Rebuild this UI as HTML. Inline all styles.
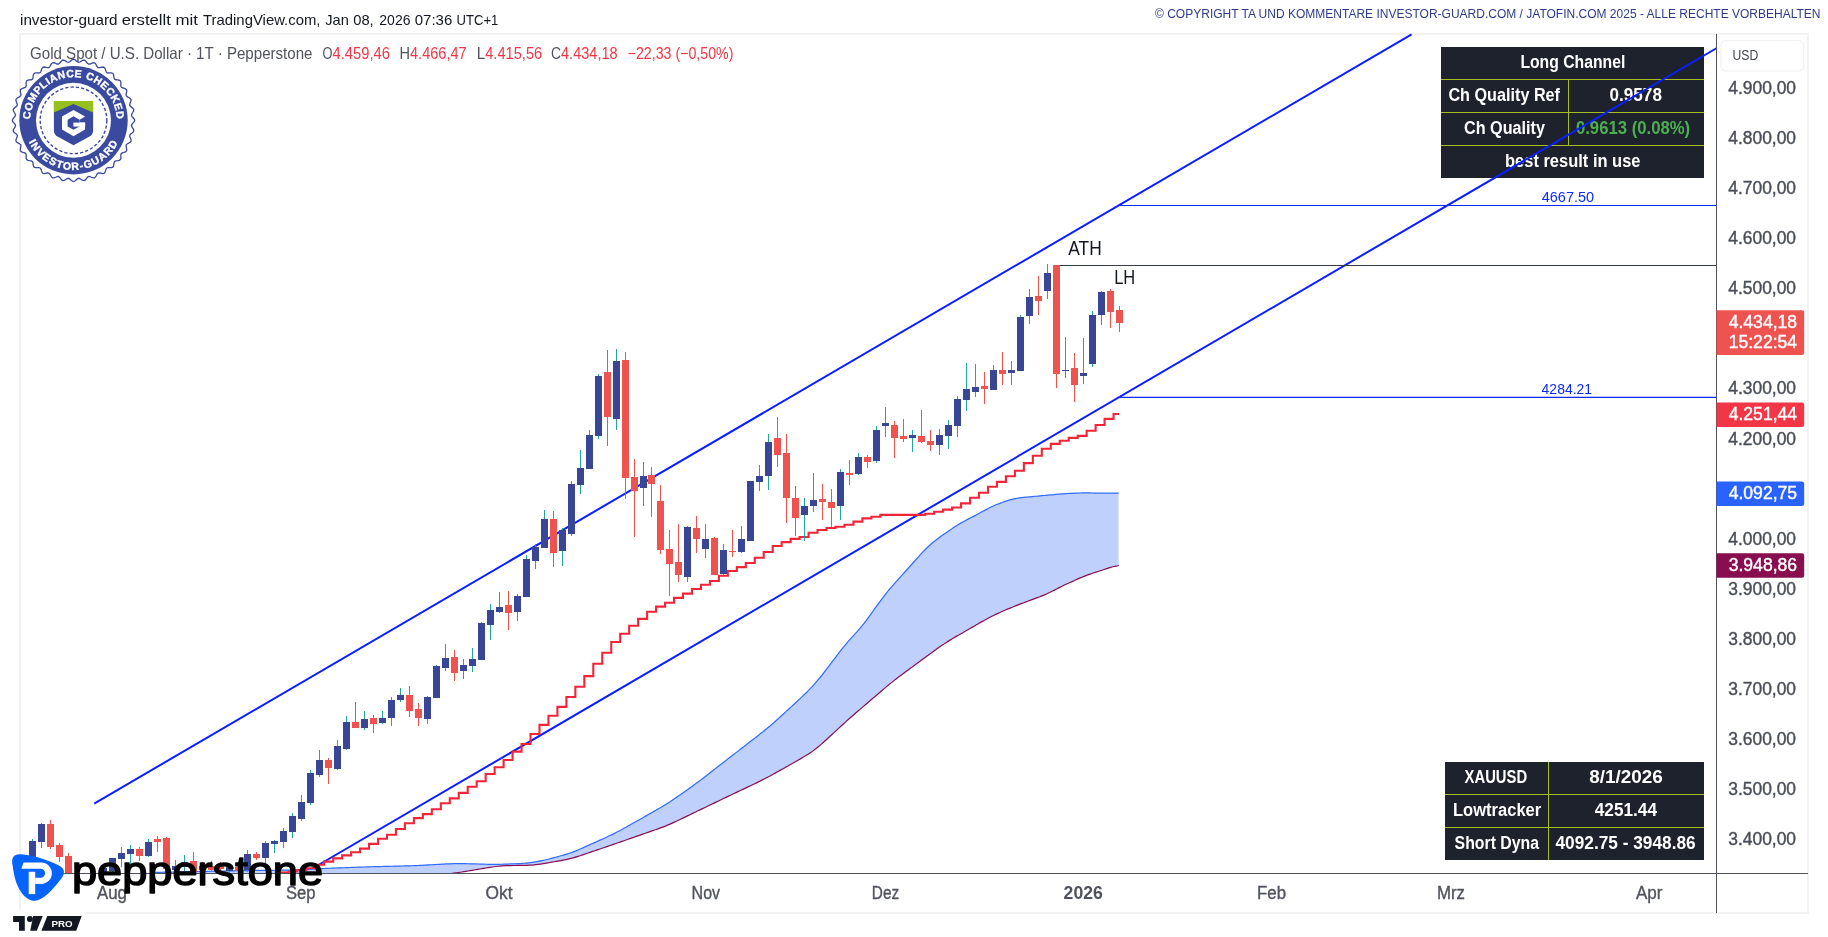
<!DOCTYPE html><html><head><meta charset="utf-8"><style>html,body{margin:0;padding:0;background:#fff;width:1828px;height:937px;overflow:hidden}svg{will-change:transform}</style></head><body><svg width="1828" height="937" viewBox="0 0 1828 937" style="display:block;font-family:'Liberation Sans', sans-serif">
<defs><clipPath id="pane"><rect x="20" y="35" width="1696" height="838"/></clipPath></defs>
<g fill="#f2f2f2" shape-rendering="crispEdges">
<rect x="19" y="33" width="1790" height="2"/>
<rect x="19" y="33" width="2" height="877"/>
<rect x="1807" y="33" width="2" height="880"/>
<rect x="86" y="912" width="1723" height="2"/>
</g>
<text x="20" y="24.7" font-size="15" fill="#131722" textLength="97.5" lengthAdjust="spacingAndGlyphs">investor-guard</text>
<text x="121.8" y="24.7" font-size="15" fill="#131722" textLength="49" lengthAdjust="spacingAndGlyphs">erstellt</text>
<text x="175.5" y="24.7" font-size="15" fill="#131722" textLength="22.5" lengthAdjust="spacingAndGlyphs">mit</text>
<text x="203" y="24.7" font-size="15" fill="#131722" textLength="117.5" lengthAdjust="spacingAndGlyphs">TradingView.com,</text>
<text x="325.3" y="24.7" font-size="15" fill="#131722" textLength="23.5" lengthAdjust="spacingAndGlyphs">Jan</text>
<text x="353.2" y="24.7" font-size="15" fill="#131722" textLength="20.5" lengthAdjust="spacingAndGlyphs">08,</text>
<text x="379.3" y="24.7" font-size="15" fill="#131722" textLength="31.2" lengthAdjust="spacingAndGlyphs">2026</text>
<text x="414.7" y="24.7" font-size="15" fill="#131722" textLength="37.6" lengthAdjust="spacingAndGlyphs">07:36</text>
<text x="456.5" y="24.7" font-size="15" fill="#131722" textLength="41.8" lengthAdjust="spacingAndGlyphs">UTC+1</text>
<text x="1155" y="17.8" font-size="12.5" fill="#2e3a8c" textLength="665.5" lengthAdjust="spacingAndGlyphs">© COPYRIGHT TA UND KOMMENTARE INVESTOR-GUARD.COM / JATOFIN.COM 2025 - ALLE RECHTE VORBEHALTEN</text>
<g shape-rendering="crispEdges">
<rect x="1441" y="47" width="263" height="131" fill="#1e222d"/>
<path d="M1441,79.5H1704M1441,112.5H1704M1441,145.5H1704M1568.5,79.5V145.5" stroke="#a3be1e" stroke-width="1"/>
<rect x="1445" y="762" width="259" height="98" fill="#1e222d"/>
<path d="M1445,794.5H1704M1445,827.5H1704M1548.5,762V860" stroke="#a3be1e" stroke-width="1"/>
</g>
<text x="1520.4" y="68.1" font-size="17.5" font-weight="bold" fill="#ffffff" textLength="104.9" lengthAdjust="spacingAndGlyphs">Long Channel</text>
<text x="1448.4" y="101.2" font-size="17.5" font-weight="bold" fill="#ffffff" textLength="111.6" lengthAdjust="spacingAndGlyphs">Ch Quality Ref</text>
<text x="1609.6" y="101.2" font-size="17.5" font-weight="bold" fill="#ffffff" textLength="52.3" lengthAdjust="spacingAndGlyphs">0.9578</text>
<text x="1464" y="134.2" font-size="17.5" font-weight="bold" fill="#ffffff" textLength="81" lengthAdjust="spacingAndGlyphs">Ch Quality</text>
<text x="1575.9" y="134.2" font-size="17.5" font-weight="bold" fill="#4caf50" textLength="114.3" lengthAdjust="spacingAndGlyphs">0.9613 (0.08%)</text>
<text x="1505" y="167" font-size="17.5" font-weight="bold" fill="#ffffff" textLength="135.5" lengthAdjust="spacingAndGlyphs">best result in use</text>
<text x="1464.6" y="782.9" font-size="17.5" font-weight="bold" fill="#ffffff" textLength="62.5" lengthAdjust="spacingAndGlyphs">XAUUSD</text>
<text x="1589.2" y="782.9" font-size="17.5" font-weight="bold" fill="#ffffff" textLength="73.7" lengthAdjust="spacingAndGlyphs">8/1/2026</text>
<text x="1453" y="816" font-size="17.5" font-weight="bold" fill="#ffffff" textLength="88.2" lengthAdjust="spacingAndGlyphs">Lowtracker</text>
<text x="1594.8" y="816" font-size="17.5" font-weight="bold" fill="#ffffff" textLength="62.2" lengthAdjust="spacingAndGlyphs">4251.44</text>
<text x="1454.6" y="849" font-size="17.5" font-weight="bold" fill="#ffffff" textLength="84.4" lengthAdjust="spacingAndGlyphs">Short Dyna</text>
<text x="1555.5" y="849" font-size="17.5" font-weight="bold" fill="#ffffff" textLength="140.2" lengthAdjust="spacingAndGlyphs">4092.75 - 3948.86</text>
<path d="M94.2,803.6L1411.6,34.4" stroke="#0a1eff" stroke-width="2" fill="none" stroke-linecap="butt"/>
<path d="M305.6,872.5L1716.4,48.25" stroke="#0a1eff" stroke-width="2" fill="none" stroke-linecap="butt"/>
<g clip-path="url(#pane)">
<path d="M150,872.45 C150.67,872.44 152.67,872.42 154,872.4 C155.33,872.38 156.67,872.36 158,872.34 C159.33,872.31 160.67,872.28 162,872.25 C163.33,872.23 164.67,872.2 166,872.17 C167.33,872.15 168.67,872.12 170,872.09 C171.33,872.06 172.67,872.04 174,872.01 C175.33,871.98 176.67,871.96 178,871.93 C179.33,871.9 180.67,871.87 182,871.85 C183.33,871.82 184.67,871.79 186,871.76 C187.33,871.74 188.67,871.71 190,871.68 C191.33,871.66 192.67,871.63 194,871.6 C195.33,871.57 196.67,871.55 198,871.52 C199.33,871.49 200.67,871.46 202,871.44 C203.33,871.41 204.67,871.38 206,871.36 C207.33,871.33 208.67,871.3 210,871.27 C211.33,871.25 212.67,871.22 214,871.19 C215.33,871.17 216.67,871.14 218,871.11 C219.33,871.08 220.67,871.06 222,871.03 C223.33,871 224.67,870.97 226,870.95 C227.33,870.92 228.67,870.89 230,870.87 C231.33,870.84 232.67,870.81 234,870.78 C235.33,870.76 236.67,870.73 238,870.71 C239.33,870.68 240.67,870.66 242,870.64 C243.33,870.62 244.67,870.6 246,870.58 C247.33,870.56 248.67,870.54 250,870.52 C251.33,870.51 252.67,870.49 254,870.48 C255.33,870.46 256.67,870.45 258,870.43 C259.33,870.42 260.67,870.4 262,870.39 C263.33,870.37 264.67,870.36 266,870.34 C267.33,870.33 268.67,870.31 270,870.3 C271.33,870.29 272.67,870.27 274,870.26 C275.33,870.24 276.67,870.23 278,870.21 C279.33,870.2 280.67,870.18 282,870.17 C283.33,870.15 284.67,870.14 286,870.12 C287.33,870.11 288.67,870.09 290,870.07 C291.33,870.04 292.67,870.01 294,869.98 C295.33,869.94 296.67,869.9 298,869.85 C299.33,869.8 300.67,869.74 302,869.68 C303.33,869.62 304.67,869.55 306,869.48 C307.33,869.41 308.67,869.33 310,869.25 C311.33,869.17 312.67,869.09 314,869.02 C315.33,868.94 316.67,868.87 318,868.8 C319.33,868.73 320.67,868.66 322,868.6 C323.33,868.53 324.67,868.47 326,868.41 C327.33,868.35 328.67,868.3 330,868.24 C331.33,868.19 332.67,868.14 334,868.09 C335.33,868.04 336.67,867.99 338,867.94 C339.33,867.9 340.67,867.85 342,867.8 C343.33,867.75 344.67,867.7 346,867.65 C347.33,867.6 348.67,867.55 350,867.5 C351.33,867.45 352.67,867.4 354,867.35 C355.33,867.3 356.67,867.25 358,867.2 C359.33,867.15 360.67,867.11 362,867.06 C363.33,867.01 364.67,866.97 366,866.92 C367.33,866.88 368.67,866.84 370,866.8 C371.33,866.76 372.67,866.72 374,866.69 C375.33,866.65 376.67,866.62 378,866.58 C379.33,866.55 380.67,866.52 382,866.49 C383.33,866.45 384.67,866.42 386,866.39 C387.33,866.36 388.67,866.33 390,866.3 C391.33,866.26 392.67,866.23 394,866.2 C395.33,866.17 396.67,866.14 398,866.1 C399.33,866.07 400.67,866.04 402,866.01 C403.33,865.98 404.67,865.95 406,865.91 C407.33,865.88 408.67,865.84 410,865.8 C411.33,865.75 412.67,865.71 414,865.66 C415.33,865.61 416.67,865.55 418,865.49 C419.33,865.43 420.67,865.37 422,865.3 C423.33,865.23 424.67,865.16 426,865.08 C427.33,865.01 428.67,864.93 430,864.86 C431.33,864.78 432.67,864.71 434,864.64 C435.33,864.56 436.67,864.49 438,864.41 C439.33,864.34 440.67,864.27 442,864.19 C443.33,864.12 444.67,864.04 446,863.97 C447.33,863.9 448.67,863.83 450,863.78 C451.33,863.72 452.67,863.68 454,863.65 C455.33,863.62 456.67,863.6 458,863.59 C459.33,863.58 460.67,863.59 462,863.6 C463.33,863.61 464.67,863.64 466,863.68 C467.33,863.71 468.67,863.75 470,863.79 C471.33,863.83 472.67,863.86 474,863.9 C475.33,863.94 476.67,863.98 478,864.01 C479.33,864.05 480.67,864.09 482,864.13 C483.33,864.16 484.67,864.21 486,864.24 C487.33,864.27 488.67,864.3 490,864.32 C491.33,864.33 492.67,864.34 494,864.34 C495.33,864.34 496.67,864.33 498,864.31 C499.33,864.3 500.67,864.27 502,864.24 C503.33,864.2 504.67,864.15 506,864.11 C507.33,864.06 508.67,864.01 510,863.96 C511.33,863.91 512.67,863.86 514,863.81 C515.33,863.76 516.67,863.72 518,863.65 C519.33,863.58 520.67,863.5 522,863.4 C523.33,863.3 524.67,863.19 526,863.07 C527.33,862.94 528.67,862.8 530,862.65 C531.33,862.49 532.67,862.33 534,862.13 C535.33,861.92 536.67,861.68 538,861.44 C539.33,861.19 540.67,860.93 542,860.65 C543.33,860.37 544.67,860.07 546,859.76 C547.33,859.44 548.67,859.11 550,858.76 C551.33,858.42 552.67,858.05 554,857.69 C555.33,857.33 556.67,856.97 558,856.62 C559.33,856.26 560.67,855.92 562,855.54 C563.33,855.17 564.67,854.78 566,854.36 C567.33,853.95 568.67,853.51 570,853.04 C571.33,852.58 572.67,852.09 574,851.58 C575.33,851.06 576.67,850.53 578,849.97 C579.33,849.4 580.67,848.8 582,848.21 C583.33,847.62 584.67,847.02 586,846.42 C587.33,845.82 588.67,845.22 590,844.62 C591.33,844.03 592.67,843.43 594,842.83 C595.33,842.23 596.67,841.63 598,841.04 C599.33,840.44 600.67,839.84 602,839.24 C603.33,838.64 604.67,838.06 606,837.45 C607.33,836.84 608.67,836.22 610,835.58 C611.33,834.94 612.67,834.29 614,833.62 C615.33,832.95 616.67,832.26 618,831.56 C619.33,830.86 620.67,830.15 622,829.42 C623.33,828.69 624.67,827.93 626,827.18 C627.33,826.43 628.67,825.67 630,824.92 C631.33,824.17 632.67,823.42 634,822.66 C635.33,821.91 636.67,821.16 638,820.41 C639.33,819.65 640.67,818.9 642,818.15 C643.33,817.4 644.67,816.64 646,815.89 C647.33,815.14 648.67,814.39 650,813.63 C651.33,812.88 652.67,812.13 654,811.38 C655.33,810.62 656.67,809.88 658,809.12 C659.33,808.35 660.67,807.59 662,806.79 C663.33,806 664.67,805.18 666,804.35 C667.33,803.51 668.67,802.66 670,801.79 C671.33,800.91 672.67,800.02 674,799.11 C675.33,798.2 676.67,797.26 678,796.32 C679.33,795.38 680.67,794.42 682,793.48 C683.33,792.53 684.67,791.58 686,790.64 C687.33,789.69 688.67,788.75 690,787.8 C691.33,786.85 692.67,785.9 694,784.93 C695.33,783.96 696.67,782.98 698,782 C699.33,781.01 700.67,780.01 702,779 C703.33,778 704.67,776.98 706,775.95 C707.33,774.92 708.67,773.88 710,772.84 C711.33,771.8 712.67,770.75 714,769.71 C715.33,768.66 716.67,767.62 718,766.59 C719.33,765.55 720.67,764.51 722,763.47 C723.33,762.44 724.67,761.41 726,760.37 C727.33,759.34 728.67,758.31 730,757.28 C731.33,756.25 732.67,755.22 734,754.19 C735.33,753.16 736.67,752.13 738,751.1 C739.33,750.07 740.67,749.04 742,748.01 C743.33,746.98 744.67,745.96 746,744.93 C747.33,743.9 748.67,742.87 750,741.85 C751.33,740.82 752.67,739.79 754,738.76 C755.33,737.74 756.67,736.72 758,735.68 C759.33,734.65 760.67,733.61 762,732.55 C763.33,731.48 764.67,730.4 766,729.3 C767.33,728.2 768.67,727.08 770,725.94 C771.33,724.8 772.67,723.64 774,722.47 C775.33,721.29 776.67,720.09 778,718.88 C779.33,717.68 780.67,716.45 782,715.24 C783.33,714.02 784.67,712.81 786,711.6 C787.33,710.38 788.67,709.16 790,707.93 C791.33,706.71 792.67,705.48 794,704.25 C795.33,703.02 796.67,701.78 798,700.54 C799.33,699.3 800.67,698.08 802,696.82 C803.33,695.56 804.67,694.31 806,692.99 C807.33,691.68 808.67,690.32 810,688.92 C811.33,687.52 812.67,686.09 814,684.6 C815.33,683.11 816.67,681.57 818,679.98 C819.33,678.38 820.67,676.73 822,675.04 C823.33,673.36 824.67,671.61 826,669.88 C827.33,668.15 828.67,666.41 830,664.66 C831.33,662.91 832.67,661.13 834,659.37 C835.33,657.61 836.67,655.82 838,654.08 C839.33,652.35 840.67,650.61 842,648.94 C843.33,647.26 844.67,645.64 846,644.05 C847.33,642.47 848.67,640.92 850,639.43 C851.33,637.93 852.67,636.54 854,635.07 C855.33,633.6 856.67,632.14 858,630.61 C859.33,629.09 860.67,627.54 862,625.92 C863.33,624.29 864.67,622.61 866,620.86 C867.33,619.12 868.67,617.3 870,615.44 C871.33,613.59 872.67,611.62 874,609.75 C875.33,607.87 876.67,606.02 878,604.2 C879.33,602.38 880.67,600.58 882,598.82 C883.33,597.05 884.67,595.29 886,593.6 C887.33,591.91 888.67,590.29 890,588.7 C891.33,587.11 892.67,585.56 894,584.03 C895.33,582.51 896.67,581.01 898,579.53 C899.33,578.04 900.67,576.57 902,575.11 C903.33,573.65 904.67,572.21 906,570.74 C907.33,569.27 908.67,567.77 910,566.27 C911.33,564.77 912.67,563.24 914,561.74 C915.33,560.24 916.67,558.74 918,557.28 C919.33,555.81 920.67,554.36 922,552.94 C923.33,551.52 924.67,550.1 926,548.77 C927.33,547.44 928.67,546.18 930,544.97 C931.33,543.77 932.67,542.66 934,541.56 C935.33,540.47 936.67,539.42 938,538.4 C939.33,537.39 940.67,536.42 942,535.49 C943.33,534.55 944.67,533.69 946,532.79 C947.33,531.89 948.67,530.99 950,530.09 C951.33,529.18 952.67,528.24 954,527.35 C955.33,526.46 956.67,525.6 958,524.77 C959.33,523.94 960.67,523.13 962,522.37 C963.33,521.6 964.67,520.87 966,520.16 C967.33,519.45 968.67,518.77 970,518.09 C971.33,517.42 972.67,516.79 974,516.1 C975.33,515.42 976.67,514.72 978,514 C979.33,513.28 980.67,512.53 982,511.8 C983.33,511.07 984.67,510.34 986,509.64 C987.33,508.94 988.67,508.24 990,507.58 C991.33,506.93 992.67,506.28 994,505.69 C995.33,505.09 996.67,504.53 998,504.01 C999.33,503.48 1000.67,503.02 1002,502.54 C1003.33,502.07 1004.67,501.6 1006,501.16 C1007.33,500.72 1008.67,500.28 1010,499.91 C1011.33,499.54 1012.67,499.22 1014,498.93 C1015.33,498.63 1016.67,498.38 1018,498.15 C1019.33,497.91 1020.67,497.72 1022,497.54 C1023.33,497.37 1024.67,497.24 1026,497.11 C1027.33,496.98 1028.67,496.89 1030,496.78 C1031.33,496.67 1032.67,496.56 1034,496.44 C1035.33,496.32 1036.67,496.2 1038,496.07 C1039.33,495.95 1040.67,495.82 1042,495.69 C1043.33,495.56 1044.67,495.43 1046,495.29 C1047.33,495.16 1048.67,495.02 1050,494.9 C1051.33,494.77 1052.67,494.64 1054,494.53 C1055.33,494.41 1056.67,494.3 1058,494.19 C1059.33,494.08 1060.67,493.98 1062,493.89 C1063.33,493.79 1064.67,493.71 1066,493.63 C1067.33,493.55 1068.67,493.48 1070,493.41 C1071.33,493.34 1072.67,493.27 1074,493.21 C1075.33,493.15 1076.67,493.08 1078,493.03 C1079.33,492.99 1080.67,492.96 1082,492.94 C1083.33,492.92 1084.67,492.91 1086,492.92 C1087.33,492.92 1088.67,492.95 1090,492.97 C1091.33,492.99 1092.67,493.02 1094,493.05 C1095.33,493.08 1096.67,493.12 1098,493.14 C1099.33,493.16 1100.67,493.18 1102,493.19 C1103.33,493.19 1104.67,493.19 1106,493.18 C1107.33,493.17 1108.67,493.15 1110,493.13 C1111.33,493.11 1112.67,493.09 1114,493.08 C1115.33,493.07 1117.23,493.05 1118,493.04 C1118.77,493.03 1118.5,493.02 1118.6,493.02 L1118.6,565.14 C1118.5,565.23 1118.77,565.47 1118,565.7 C1117.23,565.93 1115.33,566.2 1114,566.52 C1112.67,566.83 1111.33,567.2 1110,567.6 C1108.67,568 1107.33,568.47 1106,568.9 C1104.67,569.33 1103.33,569.77 1102,570.2 C1100.67,570.64 1099.33,571.07 1098,571.5 C1096.67,571.94 1095.33,572.36 1094,572.8 C1092.67,573.25 1091.33,573.71 1090,574.18 C1088.67,574.66 1087.33,575.15 1086,575.66 C1084.67,576.17 1083.33,576.7 1082,577.24 C1080.67,577.79 1079.33,578.34 1078,578.92 C1076.67,579.5 1075.33,580.1 1074,580.7 C1072.67,581.3 1071.33,581.9 1070,582.5 C1068.67,583.1 1067.33,583.68 1066,584.31 C1064.67,584.93 1063.33,585.57 1062,586.24 C1060.67,586.91 1059.33,587.64 1058,588.32 C1056.67,589 1055.33,589.68 1054,590.34 C1052.67,591 1051.33,591.65 1050,592.3 C1048.67,592.94 1047.33,593.59 1046,594.19 C1044.67,594.79 1043.33,595.36 1042,595.89 C1040.67,596.42 1039.33,596.89 1038,597.38 C1036.67,597.88 1035.33,598.38 1034,598.88 C1032.67,599.38 1031.33,599.88 1030,600.38 C1028.67,600.87 1027.33,601.37 1026,601.87 C1024.67,602.37 1023.33,602.86 1022,603.37 C1020.67,603.87 1019.33,604.38 1018,604.9 C1016.67,605.42 1015.33,605.94 1014,606.48 C1012.67,607.02 1011.33,607.57 1010,608.12 C1008.67,608.68 1007.33,609.24 1006,609.82 C1004.67,610.39 1003.33,610.97 1002,611.57 C1000.67,612.16 999.33,612.75 998,613.37 C996.67,613.99 995.33,614.62 994,615.28 C992.67,615.93 991.33,616.6 990,617.29 C988.67,617.98 987.33,618.69 986,619.41 C984.67,620.14 983.33,620.88 982,621.64 C980.67,622.39 979.33,623.17 978,623.94 C976.67,624.71 975.33,625.48 974,626.24 C972.67,627.01 971.33,627.78 970,628.55 C968.67,629.31 967.33,630.08 966,630.85 C964.67,631.62 963.33,632.39 962,633.15 C960.67,633.92 959.33,634.69 958,635.46 C956.67,636.22 955.33,636.98 954,637.76 C952.67,638.54 951.33,639.32 950,640.13 C948.67,640.94 947.33,641.78 946,642.63 C944.67,643.49 943.33,644.37 942,645.27 C940.67,646.17 939.33,647.09 938,648.03 C936.67,648.97 935.33,649.94 934,650.92 C932.67,651.89 931.33,652.88 930,653.86 C928.67,654.85 927.33,655.83 926,656.81 C924.67,657.79 923.33,658.78 922,659.76 C920.67,660.74 919.33,661.73 918,662.71 C916.67,663.69 915.33,664.67 914,665.66 C912.67,666.64 911.33,667.62 910,668.6 C908.67,669.59 907.33,670.57 906,671.55 C904.67,672.53 903.33,673.51 902,674.5 C900.67,675.49 899.33,676.49 898,677.51 C896.67,678.53 895.33,679.56 894,680.61 C892.67,681.66 891.33,682.73 890,683.81 C888.67,684.89 887.33,685.99 886,687.1 C884.67,688.22 883.33,689.36 882,690.49 C880.67,691.63 879.33,692.78 878,693.92 C876.67,695.06 875.33,696.2 874,697.35 C872.67,698.49 871.33,699.63 870,700.77 C868.67,701.91 867.33,703.06 866,704.2 C864.67,705.34 863.33,706.48 862,707.62 C860.67,708.77 859.33,709.9 858,711.05 C856.67,712.2 855.33,713.34 854,714.5 C852.67,715.66 851.33,716.83 850,718.01 C848.67,719.19 847.33,720.38 846,721.58 C844.67,722.78 843.33,723.98 842,725.2 C840.67,726.42 839.33,727.65 838,728.88 C836.67,730.11 835.33,731.35 834,732.59 C832.67,733.82 831.33,735.06 830,736.29 C828.67,737.53 827.33,738.78 826,740 C824.67,741.23 823.33,742.47 822,743.64 C820.67,744.81 819.33,745.94 818,747.02 C816.67,748.1 815.33,749.13 814,750.12 C812.67,751.11 811.33,752.06 810,752.96 C808.67,753.86 807.33,754.71 806,755.53 C804.67,756.36 803.33,757.12 802,757.9 C800.67,758.69 799.33,759.47 798,760.24 C796.67,761.02 795.33,761.79 794,762.55 C792.67,763.31 791.33,764.07 790,764.83 C788.67,765.58 787.33,766.33 786,767.08 C784.67,767.82 783.33,768.55 782,769.29 C780.67,770.03 779.33,770.77 778,771.51 C776.67,772.25 775.33,772.99 774,773.73 C772.67,774.46 771.33,775.2 770,775.92 C768.67,776.64 767.33,777.35 766,778.05 C764.67,778.75 763.33,779.44 762,780.12 C760.67,780.8 759.33,781.46 758,782.12 C756.67,782.78 755.33,783.42 754,784.06 C752.67,784.7 751.33,785.33 750,785.96 C748.67,786.59 747.33,787.23 746,787.86 C744.67,788.49 743.33,789.12 742,789.76 C740.67,790.39 739.33,791.02 738,791.66 C736.67,792.29 735.33,792.92 734,793.55 C732.67,794.19 731.33,794.82 730,795.45 C728.67,796.09 727.33,796.72 726,797.36 C724.67,797.99 723.33,798.63 722,799.26 C720.67,799.9 719.33,800.54 718,801.18 C716.67,801.82 715.33,802.46 714,803.1 C712.67,803.74 711.33,804.39 710,805.03 C708.67,805.67 707.33,806.32 706,806.96 C704.67,807.6 703.33,808.25 702,808.89 C700.67,809.53 699.33,810.18 698,810.82 C696.67,811.47 695.33,812.11 694,812.75 C692.67,813.4 691.33,814.04 690,814.68 C688.67,815.33 687.33,815.97 686,816.62 C684.67,817.26 683.33,817.9 682,818.55 C680.67,819.19 679.33,819.84 678,820.48 C676.67,821.12 675.33,821.76 674,822.37 C672.67,822.98 671.33,823.57 670,824.15 C668.67,824.72 667.33,825.28 666,825.82 C664.67,826.36 663.33,826.88 662,827.39 C660.67,827.89 659.33,828.37 658,828.85 C656.67,829.32 655.33,829.77 654,830.24 C652.67,830.7 651.33,831.17 650,831.63 C648.67,832.1 647.33,832.56 646,833.03 C644.67,833.49 643.33,833.96 642,834.42 C640.67,834.89 639.33,835.35 638,835.82 C636.67,836.28 635.33,836.74 634,837.21 C632.67,837.67 631.33,838.14 630,838.6 C628.67,839.07 627.33,839.53 626,840 C624.67,840.46 623.33,840.93 622,841.39 C620.67,841.85 619.33,842.32 618,842.78 C616.67,843.24 615.33,843.7 614,844.16 C612.67,844.62 611.33,845.07 610,845.53 C608.67,845.99 607.33,846.45 606,846.9 C604.67,847.36 603.33,847.81 602,848.26 C600.67,848.72 599.33,849.17 598,849.63 C596.67,850.08 595.33,850.54 594,850.99 C592.67,851.45 591.33,851.9 590,852.36 C588.67,852.81 587.33,853.27 586,853.72 C584.67,854.17 583.33,854.64 582,855.08 C580.67,855.53 579.33,855.99 578,856.41 C576.67,856.83 575.33,857.23 574,857.6 C572.67,857.98 571.33,858.33 570,858.67 C568.67,859 567.33,859.31 566,859.59 C564.67,859.88 563.33,860.14 562,860.39 C560.67,860.64 559.33,860.85 558,861.08 C556.67,861.32 555.33,861.55 554,861.78 C552.67,862.01 551.33,862.25 550,862.48 C548.67,862.71 547.33,862.95 546,863.18 C544.67,863.41 543.33,863.65 542,863.86 C540.67,864.07 539.33,864.25 538,864.42 C536.67,864.58 535.33,864.73 534,864.85 C532.67,864.97 531.33,865.07 530,865.15 C528.67,865.23 527.33,865.28 526,865.32 C524.67,865.36 523.33,865.36 522,865.38 C520.67,865.4 519.33,865.42 518,865.44 C516.67,865.46 515.33,865.48 514,865.5 C512.67,865.51 511.33,865.52 510,865.55 C508.67,865.58 507.33,865.61 506,865.67 C504.67,865.73 503.33,865.81 502,865.91 C500.67,866 499.33,866.12 498,866.26 C496.67,866.4 495.33,866.56 494,866.74 C492.67,866.92 491.33,867.13 490,867.34 C488.67,867.55 487.33,867.78 486,868 C484.67,868.22 483.33,868.44 482,868.66 C480.67,868.88 479.33,869.11 478,869.33 C476.67,869.55 475.33,869.77 474,869.99 C472.67,870.21 471.33,870.43 470,870.65 C468.67,870.87 467.33,871.09 466,871.31 C464.67,871.53 463.33,871.76 462,871.98 C460.67,872.19 459.33,872.4 458,872.6 C456.67,872.81 455.33,873.01 454,873.2 C452.67,873.39 451.33,873.58 450,873.76 C448.67,873.95 447.33,874.12 446,874.29 C444.67,874.46 443.33,874.62 442,874.79 C440.67,874.95 439.33,875.12 438,875.29 C436.67,875.45 435.33,875.62 434,875.78 C432.67,875.95 431.33,876.11 430,876.28 C428.67,876.44 427.33,876.61 426,876.77 C424.67,876.94 423.33,877.1 422,877.27 C420.67,877.44 419.33,877.6 418,877.77 C416.67,877.93 415.33,878.1 414,878.26 C412.67,878.43 411.33,878.6 410,878.76 C408.67,878.92 407.33,879.08 406,879.22 C404.67,879.37 403.33,879.5 402,879.62 C400.67,879.75 399.33,879.86 398,879.96 C396.67,880.06 395.33,880.15 394,880.23 C392.67,880.31 391.33,880.37 390,880.43 C388.67,880.5 387.33,880.55 386,880.61 C384.67,880.67 383.33,880.72 382,880.78 C380.67,880.84 379.33,880.9 378,880.96 C376.67,881.01 375.33,881.07 374,881.13 C372.67,881.19 371.33,881.25 370,881.3 C368.67,881.36 367.33,881.42 366,881.48 C364.67,881.54 363.33,881.59 362,881.65 C360.67,881.71 359.33,881.77 358,881.83 C356.67,881.88 355.33,881.94 354,882 C352.67,882.06 351.33,882.12 350,882.17 C348.67,882.23 347.33,882.29 346,882.35 C344.67,882.41 343.33,882.46 342,882.52 C340.67,882.58 339.33,882.64 338,882.7 C336.67,882.75 335.33,882.81 334,882.87 C332.67,882.93 331.33,882.99 330,883.04 C328.67,883.1 327.33,883.16 326,883.22 C324.67,883.28 323.33,883.33 322,883.39 C320.67,883.45 319.33,883.51 318,883.57 C316.67,883.62 315.33,883.68 314,883.74 C312.67,883.8 311.33,883.86 310,883.91 C308.67,883.97 307.33,884.03 306,884.09 C304.67,884.14 303.33,884.2 302,884.26 C300.67,884.32 299.33,884.38 298,884.43 C296.67,884.49 295.33,884.55 294,884.61 C292.67,884.67 291.33,884.72 290,884.78 C288.67,884.84 287.33,884.9 286,884.96 C284.67,885.01 283.33,885.07 282,885.13 C280.67,885.19 279.33,885.25 278,885.3 C276.67,885.36 275.33,885.42 274,885.48 C272.67,885.54 271.33,885.59 270,885.65 C268.67,885.71 267.33,885.77 266,885.83 C264.67,885.88 263.33,885.94 262,886 C260.67,886.06 259.33,886.12 258,886.17 C256.67,886.23 255.33,886.29 254,886.35 C252.67,886.41 251.33,886.46 250,886.52 C248.67,886.58 247.33,886.64 246,886.7 C244.67,886.75 243.33,886.81 242,886.87 C240.67,886.93 239.33,886.99 238,887.04 C236.67,887.1 235.33,887.16 234,887.22 C232.67,887.28 231.33,887.33 230,887.39 C228.67,887.45 227.33,887.51 226,887.57 C224.67,887.62 223.33,887.68 222,887.74 C220.67,887.8 219.33,887.86 218,887.91 C216.67,887.97 215.33,888.03 214,888.09 C212.67,888.14 211.33,888.2 210,888.26 C208.67,888.32 207.33,888.38 206,888.43 C204.67,888.49 203.33,888.55 202,888.61 C200.67,888.67 199.33,888.72 198,888.78 C196.67,888.84 195.33,888.9 194,888.96 C192.67,889.01 191.33,889.07 190,889.13 C188.67,889.19 187.33,889.25 186,889.3 C184.67,889.36 183.33,889.42 182,889.48 C180.67,889.54 179.33,889.6 178,889.65 C176.67,889.7 175.33,889.75 174,889.79 C172.67,889.83 170.67,889.88 170,889.9Z" fill="#c0d0fd" stroke="none"/>
<path d="M150,872.45 C150.67,872.44 152.67,872.42 154,872.4 C155.33,872.38 156.67,872.36 158,872.34 C159.33,872.31 160.67,872.28 162,872.25 C163.33,872.23 164.67,872.2 166,872.17 C167.33,872.15 168.67,872.12 170,872.09 C171.33,872.06 172.67,872.04 174,872.01 C175.33,871.98 176.67,871.96 178,871.93 C179.33,871.9 180.67,871.87 182,871.85 C183.33,871.82 184.67,871.79 186,871.76 C187.33,871.74 188.67,871.71 190,871.68 C191.33,871.66 192.67,871.63 194,871.6 C195.33,871.57 196.67,871.55 198,871.52 C199.33,871.49 200.67,871.46 202,871.44 C203.33,871.41 204.67,871.38 206,871.36 C207.33,871.33 208.67,871.3 210,871.27 C211.33,871.25 212.67,871.22 214,871.19 C215.33,871.17 216.67,871.14 218,871.11 C219.33,871.08 220.67,871.06 222,871.03 C223.33,871 224.67,870.97 226,870.95 C227.33,870.92 228.67,870.89 230,870.87 C231.33,870.84 232.67,870.81 234,870.78 C235.33,870.76 236.67,870.73 238,870.71 C239.33,870.68 240.67,870.66 242,870.64 C243.33,870.62 244.67,870.6 246,870.58 C247.33,870.56 248.67,870.54 250,870.52 C251.33,870.51 252.67,870.49 254,870.48 C255.33,870.46 256.67,870.45 258,870.43 C259.33,870.42 260.67,870.4 262,870.39 C263.33,870.37 264.67,870.36 266,870.34 C267.33,870.33 268.67,870.31 270,870.3 C271.33,870.29 272.67,870.27 274,870.26 C275.33,870.24 276.67,870.23 278,870.21 C279.33,870.2 280.67,870.18 282,870.17 C283.33,870.15 284.67,870.14 286,870.12 C287.33,870.11 288.67,870.09 290,870.07 C291.33,870.04 292.67,870.01 294,869.98 C295.33,869.94 296.67,869.9 298,869.85 C299.33,869.8 300.67,869.74 302,869.68 C303.33,869.62 304.67,869.55 306,869.48 C307.33,869.41 308.67,869.33 310,869.25 C311.33,869.17 312.67,869.09 314,869.02 C315.33,868.94 316.67,868.87 318,868.8 C319.33,868.73 320.67,868.66 322,868.6 C323.33,868.53 324.67,868.47 326,868.41 C327.33,868.35 328.67,868.3 330,868.24 C331.33,868.19 332.67,868.14 334,868.09 C335.33,868.04 336.67,867.99 338,867.94 C339.33,867.9 340.67,867.85 342,867.8 C343.33,867.75 344.67,867.7 346,867.65 C347.33,867.6 348.67,867.55 350,867.5 C351.33,867.45 352.67,867.4 354,867.35 C355.33,867.3 356.67,867.25 358,867.2 C359.33,867.15 360.67,867.11 362,867.06 C363.33,867.01 364.67,866.97 366,866.92 C367.33,866.88 368.67,866.84 370,866.8 C371.33,866.76 372.67,866.72 374,866.69 C375.33,866.65 376.67,866.62 378,866.58 C379.33,866.55 380.67,866.52 382,866.49 C383.33,866.45 384.67,866.42 386,866.39 C387.33,866.36 388.67,866.33 390,866.3 C391.33,866.26 392.67,866.23 394,866.2 C395.33,866.17 396.67,866.14 398,866.1 C399.33,866.07 400.67,866.04 402,866.01 C403.33,865.98 404.67,865.95 406,865.91 C407.33,865.88 408.67,865.84 410,865.8 C411.33,865.75 412.67,865.71 414,865.66 C415.33,865.61 416.67,865.55 418,865.49 C419.33,865.43 420.67,865.37 422,865.3 C423.33,865.23 424.67,865.16 426,865.08 C427.33,865.01 428.67,864.93 430,864.86 C431.33,864.78 432.67,864.71 434,864.64 C435.33,864.56 436.67,864.49 438,864.41 C439.33,864.34 440.67,864.27 442,864.19 C443.33,864.12 444.67,864.04 446,863.97 C447.33,863.9 448.67,863.83 450,863.78 C451.33,863.72 452.67,863.68 454,863.65 C455.33,863.62 456.67,863.6 458,863.59 C459.33,863.58 460.67,863.59 462,863.6 C463.33,863.61 464.67,863.64 466,863.68 C467.33,863.71 468.67,863.75 470,863.79 C471.33,863.83 472.67,863.86 474,863.9 C475.33,863.94 476.67,863.98 478,864.01 C479.33,864.05 480.67,864.09 482,864.13 C483.33,864.16 484.67,864.21 486,864.24 C487.33,864.27 488.67,864.3 490,864.32 C491.33,864.33 492.67,864.34 494,864.34 C495.33,864.34 496.67,864.33 498,864.31 C499.33,864.3 500.67,864.27 502,864.24 C503.33,864.2 504.67,864.15 506,864.11 C507.33,864.06 508.67,864.01 510,863.96 C511.33,863.91 512.67,863.86 514,863.81 C515.33,863.76 516.67,863.72 518,863.65 C519.33,863.58 520.67,863.5 522,863.4 C523.33,863.3 524.67,863.19 526,863.07 C527.33,862.94 528.67,862.8 530,862.65 C531.33,862.49 532.67,862.33 534,862.13 C535.33,861.92 536.67,861.68 538,861.44 C539.33,861.19 540.67,860.93 542,860.65 C543.33,860.37 544.67,860.07 546,859.76 C547.33,859.44 548.67,859.11 550,858.76 C551.33,858.42 552.67,858.05 554,857.69 C555.33,857.33 556.67,856.97 558,856.62 C559.33,856.26 560.67,855.92 562,855.54 C563.33,855.17 564.67,854.78 566,854.36 C567.33,853.95 568.67,853.51 570,853.04 C571.33,852.58 572.67,852.09 574,851.58 C575.33,851.06 576.67,850.53 578,849.97 C579.33,849.4 580.67,848.8 582,848.21 C583.33,847.62 584.67,847.02 586,846.42 C587.33,845.82 588.67,845.22 590,844.62 C591.33,844.03 592.67,843.43 594,842.83 C595.33,842.23 596.67,841.63 598,841.04 C599.33,840.44 600.67,839.84 602,839.24 C603.33,838.64 604.67,838.06 606,837.45 C607.33,836.84 608.67,836.22 610,835.58 C611.33,834.94 612.67,834.29 614,833.62 C615.33,832.95 616.67,832.26 618,831.56 C619.33,830.86 620.67,830.15 622,829.42 C623.33,828.69 624.67,827.93 626,827.18 C627.33,826.43 628.67,825.67 630,824.92 C631.33,824.17 632.67,823.42 634,822.66 C635.33,821.91 636.67,821.16 638,820.41 C639.33,819.65 640.67,818.9 642,818.15 C643.33,817.4 644.67,816.64 646,815.89 C647.33,815.14 648.67,814.39 650,813.63 C651.33,812.88 652.67,812.13 654,811.38 C655.33,810.62 656.67,809.88 658,809.12 C659.33,808.35 660.67,807.59 662,806.79 C663.33,806 664.67,805.18 666,804.35 C667.33,803.51 668.67,802.66 670,801.79 C671.33,800.91 672.67,800.02 674,799.11 C675.33,798.2 676.67,797.26 678,796.32 C679.33,795.38 680.67,794.42 682,793.48 C683.33,792.53 684.67,791.58 686,790.64 C687.33,789.69 688.67,788.75 690,787.8 C691.33,786.85 692.67,785.9 694,784.93 C695.33,783.96 696.67,782.98 698,782 C699.33,781.01 700.67,780.01 702,779 C703.33,778 704.67,776.98 706,775.95 C707.33,774.92 708.67,773.88 710,772.84 C711.33,771.8 712.67,770.75 714,769.71 C715.33,768.66 716.67,767.62 718,766.59 C719.33,765.55 720.67,764.51 722,763.47 C723.33,762.44 724.67,761.41 726,760.37 C727.33,759.34 728.67,758.31 730,757.28 C731.33,756.25 732.67,755.22 734,754.19 C735.33,753.16 736.67,752.13 738,751.1 C739.33,750.07 740.67,749.04 742,748.01 C743.33,746.98 744.67,745.96 746,744.93 C747.33,743.9 748.67,742.87 750,741.85 C751.33,740.82 752.67,739.79 754,738.76 C755.33,737.74 756.67,736.72 758,735.68 C759.33,734.65 760.67,733.61 762,732.55 C763.33,731.48 764.67,730.4 766,729.3 C767.33,728.2 768.67,727.08 770,725.94 C771.33,724.8 772.67,723.64 774,722.47 C775.33,721.29 776.67,720.09 778,718.88 C779.33,717.68 780.67,716.45 782,715.24 C783.33,714.02 784.67,712.81 786,711.6 C787.33,710.38 788.67,709.16 790,707.93 C791.33,706.71 792.67,705.48 794,704.25 C795.33,703.02 796.67,701.78 798,700.54 C799.33,699.3 800.67,698.08 802,696.82 C803.33,695.56 804.67,694.31 806,692.99 C807.33,691.68 808.67,690.32 810,688.92 C811.33,687.52 812.67,686.09 814,684.6 C815.33,683.11 816.67,681.57 818,679.98 C819.33,678.38 820.67,676.73 822,675.04 C823.33,673.36 824.67,671.61 826,669.88 C827.33,668.15 828.67,666.41 830,664.66 C831.33,662.91 832.67,661.13 834,659.37 C835.33,657.61 836.67,655.82 838,654.08 C839.33,652.35 840.67,650.61 842,648.94 C843.33,647.26 844.67,645.64 846,644.05 C847.33,642.47 848.67,640.92 850,639.43 C851.33,637.93 852.67,636.54 854,635.07 C855.33,633.6 856.67,632.14 858,630.61 C859.33,629.09 860.67,627.54 862,625.92 C863.33,624.29 864.67,622.61 866,620.86 C867.33,619.12 868.67,617.3 870,615.44 C871.33,613.59 872.67,611.62 874,609.75 C875.33,607.87 876.67,606.02 878,604.2 C879.33,602.38 880.67,600.58 882,598.82 C883.33,597.05 884.67,595.29 886,593.6 C887.33,591.91 888.67,590.29 890,588.7 C891.33,587.11 892.67,585.56 894,584.03 C895.33,582.51 896.67,581.01 898,579.53 C899.33,578.04 900.67,576.57 902,575.11 C903.33,573.65 904.67,572.21 906,570.74 C907.33,569.27 908.67,567.77 910,566.27 C911.33,564.77 912.67,563.24 914,561.74 C915.33,560.24 916.67,558.74 918,557.28 C919.33,555.81 920.67,554.36 922,552.94 C923.33,551.52 924.67,550.1 926,548.77 C927.33,547.44 928.67,546.18 930,544.97 C931.33,543.77 932.67,542.66 934,541.56 C935.33,540.47 936.67,539.42 938,538.4 C939.33,537.39 940.67,536.42 942,535.49 C943.33,534.55 944.67,533.69 946,532.79 C947.33,531.89 948.67,530.99 950,530.09 C951.33,529.18 952.67,528.24 954,527.35 C955.33,526.46 956.67,525.6 958,524.77 C959.33,523.94 960.67,523.13 962,522.37 C963.33,521.6 964.67,520.87 966,520.16 C967.33,519.45 968.67,518.77 970,518.09 C971.33,517.42 972.67,516.79 974,516.1 C975.33,515.42 976.67,514.72 978,514 C979.33,513.28 980.67,512.53 982,511.8 C983.33,511.07 984.67,510.34 986,509.64 C987.33,508.94 988.67,508.24 990,507.58 C991.33,506.93 992.67,506.28 994,505.69 C995.33,505.09 996.67,504.53 998,504.01 C999.33,503.48 1000.67,503.02 1002,502.54 C1003.33,502.07 1004.67,501.6 1006,501.16 C1007.33,500.72 1008.67,500.28 1010,499.91 C1011.33,499.54 1012.67,499.22 1014,498.93 C1015.33,498.63 1016.67,498.38 1018,498.15 C1019.33,497.91 1020.67,497.72 1022,497.54 C1023.33,497.37 1024.67,497.24 1026,497.11 C1027.33,496.98 1028.67,496.89 1030,496.78 C1031.33,496.67 1032.67,496.56 1034,496.44 C1035.33,496.32 1036.67,496.2 1038,496.07 C1039.33,495.95 1040.67,495.82 1042,495.69 C1043.33,495.56 1044.67,495.43 1046,495.29 C1047.33,495.16 1048.67,495.02 1050,494.9 C1051.33,494.77 1052.67,494.64 1054,494.53 C1055.33,494.41 1056.67,494.3 1058,494.19 C1059.33,494.08 1060.67,493.98 1062,493.89 C1063.33,493.79 1064.67,493.71 1066,493.63 C1067.33,493.55 1068.67,493.48 1070,493.41 C1071.33,493.34 1072.67,493.27 1074,493.21 C1075.33,493.15 1076.67,493.08 1078,493.03 C1079.33,492.99 1080.67,492.96 1082,492.94 C1083.33,492.92 1084.67,492.91 1086,492.92 C1087.33,492.92 1088.67,492.95 1090,492.97 C1091.33,492.99 1092.67,493.02 1094,493.05 C1095.33,493.08 1096.67,493.12 1098,493.14 C1099.33,493.16 1100.67,493.18 1102,493.19 C1103.33,493.19 1104.67,493.19 1106,493.18 C1107.33,493.17 1108.67,493.15 1110,493.13 C1111.33,493.11 1112.67,493.09 1114,493.08 C1115.33,493.07 1117.23,493.05 1118,493.04 C1118.77,493.03 1118.5,493.02 1118.6,493.02" fill="none" stroke="#2f6bff" stroke-width="1.2"/>
<path d="M170,889.9 C170.67,889.88 172.67,889.83 174,889.79 C175.33,889.75 176.67,889.7 178,889.65 C179.33,889.6 180.67,889.54 182,889.48 C183.33,889.42 184.67,889.36 186,889.3 C187.33,889.25 188.67,889.19 190,889.13 C191.33,889.07 192.67,889.01 194,888.96 C195.33,888.9 196.67,888.84 198,888.78 C199.33,888.72 200.67,888.67 202,888.61 C203.33,888.55 204.67,888.49 206,888.43 C207.33,888.38 208.67,888.32 210,888.26 C211.33,888.2 212.67,888.14 214,888.09 C215.33,888.03 216.67,887.97 218,887.91 C219.33,887.86 220.67,887.8 222,887.74 C223.33,887.68 224.67,887.62 226,887.57 C227.33,887.51 228.67,887.45 230,887.39 C231.33,887.33 232.67,887.28 234,887.22 C235.33,887.16 236.67,887.1 238,887.04 C239.33,886.99 240.67,886.93 242,886.87 C243.33,886.81 244.67,886.75 246,886.7 C247.33,886.64 248.67,886.58 250,886.52 C251.33,886.46 252.67,886.41 254,886.35 C255.33,886.29 256.67,886.23 258,886.17 C259.33,886.12 260.67,886.06 262,886 C263.33,885.94 264.67,885.88 266,885.83 C267.33,885.77 268.67,885.71 270,885.65 C271.33,885.59 272.67,885.54 274,885.48 C275.33,885.42 276.67,885.36 278,885.3 C279.33,885.25 280.67,885.19 282,885.13 C283.33,885.07 284.67,885.01 286,884.96 C287.33,884.9 288.67,884.84 290,884.78 C291.33,884.72 292.67,884.67 294,884.61 C295.33,884.55 296.67,884.49 298,884.43 C299.33,884.38 300.67,884.32 302,884.26 C303.33,884.2 304.67,884.14 306,884.09 C307.33,884.03 308.67,883.97 310,883.91 C311.33,883.86 312.67,883.8 314,883.74 C315.33,883.68 316.67,883.62 318,883.57 C319.33,883.51 320.67,883.45 322,883.39 C323.33,883.33 324.67,883.28 326,883.22 C327.33,883.16 328.67,883.1 330,883.04 C331.33,882.99 332.67,882.93 334,882.87 C335.33,882.81 336.67,882.75 338,882.7 C339.33,882.64 340.67,882.58 342,882.52 C343.33,882.46 344.67,882.41 346,882.35 C347.33,882.29 348.67,882.23 350,882.17 C351.33,882.12 352.67,882.06 354,882 C355.33,881.94 356.67,881.88 358,881.83 C359.33,881.77 360.67,881.71 362,881.65 C363.33,881.59 364.67,881.54 366,881.48 C367.33,881.42 368.67,881.36 370,881.3 C371.33,881.25 372.67,881.19 374,881.13 C375.33,881.07 376.67,881.01 378,880.96 C379.33,880.9 380.67,880.84 382,880.78 C383.33,880.72 384.67,880.67 386,880.61 C387.33,880.55 388.67,880.5 390,880.43 C391.33,880.37 392.67,880.31 394,880.23 C395.33,880.15 396.67,880.06 398,879.96 C399.33,879.86 400.67,879.75 402,879.62 C403.33,879.5 404.67,879.37 406,879.22 C407.33,879.08 408.67,878.92 410,878.76 C411.33,878.6 412.67,878.43 414,878.26 C415.33,878.1 416.67,877.93 418,877.77 C419.33,877.6 420.67,877.44 422,877.27 C423.33,877.1 424.67,876.94 426,876.77 C427.33,876.61 428.67,876.44 430,876.28 C431.33,876.11 432.67,875.95 434,875.78 C435.33,875.62 436.67,875.45 438,875.29 C439.33,875.12 440.67,874.95 442,874.79 C443.33,874.62 444.67,874.46 446,874.29 C447.33,874.12 448.67,873.95 450,873.76 C451.33,873.58 452.67,873.39 454,873.2 C455.33,873.01 456.67,872.81 458,872.6 C459.33,872.4 460.67,872.19 462,871.98 C463.33,871.76 464.67,871.53 466,871.31 C467.33,871.09 468.67,870.87 470,870.65 C471.33,870.43 472.67,870.21 474,869.99 C475.33,869.77 476.67,869.55 478,869.33 C479.33,869.11 480.67,868.88 482,868.66 C483.33,868.44 484.67,868.22 486,868 C487.33,867.78 488.67,867.55 490,867.34 C491.33,867.13 492.67,866.92 494,866.74 C495.33,866.56 496.67,866.4 498,866.26 C499.33,866.12 500.67,866 502,865.91 C503.33,865.81 504.67,865.73 506,865.67 C507.33,865.61 508.67,865.58 510,865.55 C511.33,865.52 512.67,865.51 514,865.5 C515.33,865.48 516.67,865.46 518,865.44 C519.33,865.42 520.67,865.4 522,865.38 C523.33,865.36 524.67,865.36 526,865.32 C527.33,865.28 528.67,865.23 530,865.15 C531.33,865.07 532.67,864.97 534,864.85 C535.33,864.73 536.67,864.58 538,864.42 C539.33,864.25 540.67,864.07 542,863.86 C543.33,863.65 544.67,863.41 546,863.18 C547.33,862.95 548.67,862.71 550,862.48 C551.33,862.25 552.67,862.01 554,861.78 C555.33,861.55 556.67,861.32 558,861.08 C559.33,860.85 560.67,860.64 562,860.39 C563.33,860.14 564.67,859.88 566,859.59 C567.33,859.31 568.67,859 570,858.67 C571.33,858.33 572.67,857.98 574,857.6 C575.33,857.23 576.67,856.83 578,856.41 C579.33,855.99 580.67,855.53 582,855.08 C583.33,854.64 584.67,854.17 586,853.72 C587.33,853.27 588.67,852.81 590,852.36 C591.33,851.9 592.67,851.45 594,850.99 C595.33,850.54 596.67,850.08 598,849.63 C599.33,849.17 600.67,848.72 602,848.26 C603.33,847.81 604.67,847.36 606,846.9 C607.33,846.45 608.67,845.99 610,845.53 C611.33,845.07 612.67,844.62 614,844.16 C615.33,843.7 616.67,843.24 618,842.78 C619.33,842.32 620.67,841.85 622,841.39 C623.33,840.93 624.67,840.46 626,840 C627.33,839.53 628.67,839.07 630,838.6 C631.33,838.14 632.67,837.67 634,837.21 C635.33,836.74 636.67,836.28 638,835.82 C639.33,835.35 640.67,834.89 642,834.42 C643.33,833.96 644.67,833.49 646,833.03 C647.33,832.56 648.67,832.1 650,831.63 C651.33,831.17 652.67,830.7 654,830.24 C655.33,829.77 656.67,829.32 658,828.85 C659.33,828.37 660.67,827.89 662,827.39 C663.33,826.88 664.67,826.36 666,825.82 C667.33,825.28 668.67,824.72 670,824.15 C671.33,823.57 672.67,822.98 674,822.37 C675.33,821.76 676.67,821.12 678,820.48 C679.33,819.84 680.67,819.19 682,818.55 C683.33,817.9 684.67,817.26 686,816.62 C687.33,815.97 688.67,815.33 690,814.68 C691.33,814.04 692.67,813.4 694,812.75 C695.33,812.11 696.67,811.47 698,810.82 C699.33,810.18 700.67,809.53 702,808.89 C703.33,808.25 704.67,807.6 706,806.96 C707.33,806.32 708.67,805.67 710,805.03 C711.33,804.39 712.67,803.74 714,803.1 C715.33,802.46 716.67,801.82 718,801.18 C719.33,800.54 720.67,799.9 722,799.26 C723.33,798.63 724.67,797.99 726,797.36 C727.33,796.72 728.67,796.09 730,795.45 C731.33,794.82 732.67,794.19 734,793.55 C735.33,792.92 736.67,792.29 738,791.66 C739.33,791.02 740.67,790.39 742,789.76 C743.33,789.12 744.67,788.49 746,787.86 C747.33,787.23 748.67,786.59 750,785.96 C751.33,785.33 752.67,784.7 754,784.06 C755.33,783.42 756.67,782.78 758,782.12 C759.33,781.46 760.67,780.8 762,780.12 C763.33,779.44 764.67,778.75 766,778.05 C767.33,777.35 768.67,776.64 770,775.92 C771.33,775.2 772.67,774.46 774,773.73 C775.33,772.99 776.67,772.25 778,771.51 C779.33,770.77 780.67,770.03 782,769.29 C783.33,768.55 784.67,767.82 786,767.08 C787.33,766.33 788.67,765.58 790,764.83 C791.33,764.07 792.67,763.31 794,762.55 C795.33,761.79 796.67,761.02 798,760.24 C799.33,759.47 800.67,758.69 802,757.9 C803.33,757.12 804.67,756.36 806,755.53 C807.33,754.71 808.67,753.86 810,752.96 C811.33,752.06 812.67,751.11 814,750.12 C815.33,749.13 816.67,748.1 818,747.02 C819.33,745.94 820.67,744.81 822,743.64 C823.33,742.47 824.67,741.23 826,740 C827.33,738.78 828.67,737.53 830,736.29 C831.33,735.06 832.67,733.82 834,732.59 C835.33,731.35 836.67,730.11 838,728.88 C839.33,727.65 840.67,726.42 842,725.2 C843.33,723.98 844.67,722.78 846,721.58 C847.33,720.38 848.67,719.19 850,718.01 C851.33,716.83 852.67,715.66 854,714.5 C855.33,713.34 856.67,712.2 858,711.05 C859.33,709.9 860.67,708.77 862,707.62 C863.33,706.48 864.67,705.34 866,704.2 C867.33,703.06 868.67,701.91 870,700.77 C871.33,699.63 872.67,698.49 874,697.35 C875.33,696.2 876.67,695.06 878,693.92 C879.33,692.78 880.67,691.63 882,690.49 C883.33,689.36 884.67,688.22 886,687.1 C887.33,685.99 888.67,684.89 890,683.81 C891.33,682.73 892.67,681.66 894,680.61 C895.33,679.56 896.67,678.53 898,677.51 C899.33,676.49 900.67,675.49 902,674.5 C903.33,673.51 904.67,672.53 906,671.55 C907.33,670.57 908.67,669.59 910,668.6 C911.33,667.62 912.67,666.64 914,665.66 C915.33,664.67 916.67,663.69 918,662.71 C919.33,661.73 920.67,660.74 922,659.76 C923.33,658.78 924.67,657.79 926,656.81 C927.33,655.83 928.67,654.85 930,653.86 C931.33,652.88 932.67,651.89 934,650.92 C935.33,649.94 936.67,648.97 938,648.03 C939.33,647.09 940.67,646.17 942,645.27 C943.33,644.37 944.67,643.49 946,642.63 C947.33,641.78 948.67,640.94 950,640.13 C951.33,639.32 952.67,638.54 954,637.76 C955.33,636.98 956.67,636.22 958,635.46 C959.33,634.69 960.67,633.92 962,633.15 C963.33,632.39 964.67,631.62 966,630.85 C967.33,630.08 968.67,629.31 970,628.55 C971.33,627.78 972.67,627.01 974,626.24 C975.33,625.48 976.67,624.71 978,623.94 C979.33,623.17 980.67,622.39 982,621.64 C983.33,620.88 984.67,620.14 986,619.41 C987.33,618.69 988.67,617.98 990,617.29 C991.33,616.6 992.67,615.93 994,615.28 C995.33,614.62 996.67,613.99 998,613.37 C999.33,612.75 1000.67,612.16 1002,611.57 C1003.33,610.97 1004.67,610.39 1006,609.82 C1007.33,609.24 1008.67,608.68 1010,608.12 C1011.33,607.57 1012.67,607.02 1014,606.48 C1015.33,605.94 1016.67,605.42 1018,604.9 C1019.33,604.38 1020.67,603.87 1022,603.37 C1023.33,602.86 1024.67,602.37 1026,601.87 C1027.33,601.37 1028.67,600.87 1030,600.38 C1031.33,599.88 1032.67,599.38 1034,598.88 C1035.33,598.38 1036.67,597.88 1038,597.38 C1039.33,596.89 1040.67,596.42 1042,595.89 C1043.33,595.36 1044.67,594.79 1046,594.19 C1047.33,593.59 1048.67,592.94 1050,592.3 C1051.33,591.65 1052.67,591 1054,590.34 C1055.33,589.68 1056.67,589 1058,588.32 C1059.33,587.64 1060.67,586.91 1062,586.24 C1063.33,585.57 1064.67,584.93 1066,584.31 C1067.33,583.68 1068.67,583.1 1070,582.5 C1071.33,581.9 1072.67,581.3 1074,580.7 C1075.33,580.1 1076.67,579.5 1078,578.92 C1079.33,578.34 1080.67,577.79 1082,577.24 C1083.33,576.7 1084.67,576.17 1086,575.66 C1087.33,575.15 1088.67,574.66 1090,574.18 C1091.33,573.71 1092.67,573.25 1094,572.8 C1095.33,572.36 1096.67,571.94 1098,571.5 C1099.33,571.07 1100.67,570.64 1102,570.2 C1103.33,569.77 1104.67,569.33 1106,568.9 C1107.33,568.47 1108.67,568 1110,567.6 C1111.33,567.2 1112.67,566.83 1114,566.52 C1115.33,566.2 1117.23,565.93 1118,565.7 C1118.77,565.47 1118.5,565.23 1118.6,565.14" fill="none" stroke="#880e4f" stroke-width="1.2"/>
<path d="M279.35,872.5 H288.32 V871.5 H297.29 V870 H306.26 V868.2 H315.23 V864.8 H324.2 V861.6 H333.17 V858.4 H342.14 V855.4 H351.11 V852.2 H360.08 V848.6 H369.05 V843.9 H378.02 V838.8 H386.99 V834.7 H395.96 V829 H404.93 V823.2 H413.9 V818.1 H422.87 V814.1 H431.84 V809.3 H440.81 V803.3 H449.78 V798.4 H458.75 V792.9 H467.72 V786.8 H476.69 V781.2 H485.66 V774 H494.63 V767.2 H503.6 V760 H512.57 V751.6 H521.54 V744 H530.51 V734 H539.48 V724.9 H548.45 V715.8 H557.42 V706.9 H566.39 V697 H575.36 V686.7 H584.33 V676.1 H593.3 V663.7 H602.27 V652.7 H611.24 V642 H620.21 V633.8 H629.18 V625.7 H638.15 V618.9 H647.12 V611.7 H656.09 V606.6 H665.06 V602.7 H674.03 V597.9 H683 V593.6 H691.97 V589 H700.94 V584.8 H709.91 V581 H718.88 V575.8 H727.85 V571 H736.82 V567.1 H745.79 V563 H754.76 V557.8 H763.73 V552 H772.7 V546 H781.67 V542.1 H790.64 V538.9 H799.61 V537 H808.58 V532.8 H817.55 V530 H826.52 V528 H835.49 V526.8 H844.46 V524.8 H853.43 V521.6 H862.4 V518.4 H871.37 V516.8 H880.34 V514.9 H889.31 V514.9 H898.28 V514.9 H907.25 V514.9 H916.22 V514.9 H925.19 V513.8 H934.16 V511.7 H943.13 V509.6 H952.1 V507.5 H961.07 V503.4 H970.04 V497.8 H979.01 V492.7 H987.98 V486.7 H996.95 V481.9 H1005.92 V476.3 H1014.89 V470.8 H1023.86 V463.1 H1032.83 V455.7 H1041.8 V448.8 H1050.77 V443.9 H1059.74 V440.8 H1068.71 V437.9 H1077.68 V435.9 H1086.65 V430.7 H1095.62 V425 H1104.59 V418.9 H1113.56 V414 H1119" fill="none" stroke="#f22538" stroke-width="2.1"/>
<g shape-rendering="crispEdges">
<g fill="#26a69a"><rect x="32" y="839" width="1" height="20"/><rect x="41" y="823" width="1" height="25"/><rect x="86" y="874" width="1" height="6"/><rect x="103" y="866" width="1" height="8"/><rect x="112" y="858" width="1" height="15"/><rect x="121" y="847" width="1" height="20"/><rect x="130" y="845" width="1" height="19"/><rect x="148" y="839" width="1" height="18"/><rect x="175" y="860" width="1" height="12"/><rect x="184" y="855" width="1" height="18"/><rect x="202" y="862" width="1" height="10"/><rect x="229" y="866" width="1" height="7"/><rect x="247" y="850" width="1" height="22"/><rect x="265" y="841" width="1" height="22"/><rect x="274" y="840" width="1" height="13"/><rect x="283" y="828" width="1" height="20"/><rect x="292" y="813" width="1" height="25"/><rect x="301" y="795" width="1" height="26"/><rect x="310" y="770" width="1" height="35"/><rect x="319" y="750" width="1" height="27"/><rect x="337" y="740" width="1" height="30"/><rect x="346" y="716" width="1" height="34"/><rect x="364" y="711" width="1" height="19"/><rect x="382" y="711" width="1" height="13"/><rect x="391" y="697" width="1" height="29"/><rect x="400" y="688" width="1" height="14"/><rect x="427" y="696" width="1" height="28"/><rect x="436" y="665" width="1" height="33"/><rect x="445" y="644" width="1" height="27"/><rect x="463" y="659" width="1" height="20"/><rect x="472" y="648" width="1" height="24"/><rect x="481" y="622" width="1" height="38"/><rect x="490" y="604" width="1" height="36"/><rect x="499" y="592" width="1" height="21"/><rect x="517" y="594" width="1" height="27"/><rect x="526" y="555" width="1" height="42"/><rect x="535" y="544" width="1" height="25"/><rect x="544" y="510" width="1" height="38"/><rect x="562" y="528" width="1" height="38"/><rect x="571" y="481" width="1" height="55"/><rect x="580" y="450" width="1" height="44"/><rect x="589" y="430" width="1" height="39"/><rect x="598" y="374" width="1" height="65"/><rect x="616" y="349" width="1" height="81"/><rect x="643" y="462" width="1" height="44"/><rect x="687" y="526" width="1" height="56"/><rect x="705" y="524" width="1" height="34"/><rect x="723" y="544" width="1" height="31"/><rect x="741" y="526" width="1" height="27"/><rect x="750" y="481" width="1" height="60"/><rect x="759" y="465" width="1" height="26"/><rect x="768" y="434" width="1" height="56"/><rect x="804" y="498" width="1" height="43"/><rect x="813" y="473" width="1" height="39"/><rect x="840" y="469" width="1" height="51"/><rect x="858" y="453" width="1" height="22"/><rect x="876" y="426" width="1" height="37"/><rect x="885" y="407" width="1" height="30"/><rect x="912" y="430" width="1" height="22"/><rect x="939" y="429" width="1" height="26"/><rect x="948" y="420" width="1" height="29"/><rect x="957" y="396" width="1" height="41"/><rect x="966" y="363" width="1" height="48"/><rect x="975" y="364" width="1" height="33"/><rect x="993" y="365" width="1" height="25"/><rect x="1011" y="361" width="1" height="24"/><rect x="1020" y="315" width="1" height="56"/><rect x="1029" y="289" width="1" height="35"/><rect x="1047" y="264" width="1" height="35"/><rect x="1065" y="337" width="1" height="41"/><rect x="1083" y="338" width="1" height="46"/><rect x="1092" y="311" width="1" height="56"/><rect x="1101" y="291" width="1" height="34"/></g>
<g fill="#ef5350"><rect x="50" y="820" width="1" height="29"/><rect x="59" y="843" width="1" height="19"/><rect x="68" y="853" width="1" height="20"/><rect x="77" y="874" width="1" height="6"/><rect x="94" y="874" width="1" height="6"/><rect x="139" y="847" width="1" height="14"/><rect x="157" y="836" width="1" height="16"/><rect x="166" y="837" width="1" height="32"/><rect x="193" y="852" width="1" height="20"/><rect x="211" y="861" width="1" height="11"/><rect x="220" y="862" width="1" height="10"/><rect x="238" y="865" width="1" height="8"/><rect x="256" y="852" width="1" height="8"/><rect x="328" y="758" width="1" height="26"/><rect x="355" y="702" width="1" height="26"/><rect x="373" y="715" width="1" height="18"/><rect x="409" y="686" width="1" height="31"/><rect x="418" y="703" width="1" height="23"/><rect x="454" y="650" width="1" height="31"/><rect x="508" y="591" width="1" height="39"/><rect x="553" y="511" width="1" height="56"/><rect x="607" y="350" width="1" height="96"/><rect x="625" y="352" width="1" height="147"/><rect x="634" y="459" width="1" height="78"/><rect x="651" y="467" width="1" height="50"/><rect x="660" y="485" width="1" height="69"/><rect x="669" y="530" width="1" height="66"/><rect x="678" y="524" width="1" height="58"/><rect x="696" y="516" width="1" height="37"/><rect x="714" y="537" width="1" height="38"/><rect x="732" y="530" width="1" height="27"/><rect x="777" y="417" width="1" height="50"/><rect x="786" y="434" width="1" height="89"/><rect x="795" y="486" width="1" height="50"/><rect x="822" y="484" width="1" height="36"/><rect x="831" y="489" width="1" height="38"/><rect x="849" y="460" width="1" height="25"/><rect x="867" y="455" width="1" height="13"/><rect x="894" y="421" width="1" height="37"/><rect x="903" y="419" width="1" height="23"/><rect x="921" y="410" width="1" height="33"/><rect x="930" y="430" width="1" height="21"/><rect x="984" y="372" width="1" height="32"/><rect x="1002" y="352" width="1" height="33"/><rect x="1038" y="276" width="1" height="39"/><rect x="1056" y="265" width="1" height="123"/><rect x="1074" y="353" width="1" height="49"/><rect x="1110" y="289" width="1" height="39"/><rect x="1119" y="306" width="1" height="26"/></g>
<g fill="#394696"><rect x="29" y="841" width="7" height="16"/><rect x="38" y="824" width="7" height="18"/><rect x="83" y="874" width="7" height="6"/><rect x="100" y="868" width="7" height="5"/><rect x="109" y="858" width="7" height="13"/><rect x="118" y="853" width="7" height="6"/><rect x="127" y="849" width="7" height="5"/><rect x="145" y="842" width="7" height="14"/><rect x="172" y="866" width="7" height="4"/><rect x="181" y="862" width="7" height="5"/><rect x="199" y="866" width="7" height="4"/><rect x="226" y="867" width="7" height="4"/><rect x="244" y="854" width="7" height="16"/><rect x="262" y="843" width="7" height="15"/><rect x="271" y="841" width="7" height="3"/><rect x="280" y="831" width="7" height="11"/><rect x="289" y="816" width="7" height="16"/><rect x="298" y="802" width="7" height="17"/><rect x="307" y="773" width="7" height="30"/><rect x="316" y="760" width="7" height="15"/><rect x="334" y="746" width="7" height="23"/><rect x="343" y="722" width="7" height="27"/><rect x="361" y="719" width="7" height="9"/><rect x="379" y="718" width="7" height="5"/><rect x="388" y="700" width="7" height="18"/><rect x="397" y="695" width="7" height="5"/><rect x="424" y="697" width="7" height="22"/><rect x="433" y="666" width="7" height="32"/><rect x="442" y="658" width="7" height="10"/><rect x="460" y="665" width="7" height="6"/><rect x="469" y="659" width="7" height="7"/><rect x="478" y="623" width="7" height="37"/><rect x="487" y="610" width="7" height="15"/><rect x="496" y="607" width="7" height="5"/><rect x="514" y="596" width="7" height="16"/><rect x="523" y="559" width="7" height="38"/><rect x="532" y="547" width="7" height="14"/><rect x="541" y="519" width="7" height="29"/><rect x="559" y="530" width="7" height="21"/><rect x="568" y="484" width="7" height="50"/><rect x="577" y="468" width="7" height="17"/><rect x="586" y="435" width="7" height="34"/><rect x="595" y="376" width="7" height="60"/><rect x="613" y="361" width="7" height="58"/><rect x="640" y="476" width="7" height="12"/><rect x="684" y="527" width="7" height="50"/><rect x="702" y="539" width="7" height="10"/><rect x="720" y="550" width="7" height="24"/><rect x="738" y="539" width="7" height="13"/><rect x="747" y="481" width="7" height="60"/><rect x="756" y="476" width="7" height="6"/><rect x="765" y="442" width="7" height="34"/><rect x="801" y="506" width="7" height="9"/><rect x="810" y="500" width="7" height="6"/><rect x="837" y="472" width="7" height="34"/><rect x="855" y="457" width="7" height="17"/><rect x="873" y="430" width="7" height="31"/><rect x="882" y="423" width="7" height="3"/><rect x="909" y="435" width="7" height="3"/><rect x="936" y="435" width="7" height="10"/><rect x="945" y="425" width="7" height="11"/><rect x="954" y="399" width="7" height="27"/><rect x="963" y="389" width="7" height="11"/><rect x="972" y="387" width="7" height="5"/><rect x="990" y="370" width="7" height="20"/><rect x="1008" y="370" width="7" height="3"/><rect x="1017" y="317" width="7" height="54"/><rect x="1026" y="297" width="7" height="19"/><rect x="1044" y="273" width="7" height="18"/><rect x="1062" y="370" width="7" height="1"/><rect x="1080" y="373" width="7" height="3"/><rect x="1089" y="315" width="7" height="49"/><rect x="1098" y="292" width="7" height="23"/></g>
<g fill="#ef5350"><rect x="47" y="824" width="7" height="23"/><rect x="56" y="845" width="7" height="12"/><rect x="65" y="856" width="7" height="17"/><rect x="74" y="874" width="7" height="6"/><rect x="91" y="874" width="7" height="6"/><rect x="136" y="849" width="7" height="7"/><rect x="154" y="839" width="7" height="3"/><rect x="163" y="838" width="7" height="31"/><rect x="190" y="861" width="7" height="11"/><rect x="208" y="866" width="7" height="4"/><rect x="217" y="865" width="7" height="4"/><rect x="235" y="867" width="7" height="4"/><rect x="253" y="854" width="7" height="4"/><rect x="325" y="760" width="7" height="8"/><rect x="352" y="722" width="7" height="6"/><rect x="370" y="718" width="7" height="6"/><rect x="406" y="695" width="7" height="16"/><rect x="415" y="709" width="7" height="9"/><rect x="451" y="657" width="7" height="16"/><rect x="505" y="605" width="7" height="8"/><rect x="550" y="519" width="7" height="34"/><rect x="604" y="372" width="7" height="45"/><rect x="622" y="360" width="7" height="118"/><rect x="631" y="477" width="7" height="14"/><rect x="648" y="475" width="7" height="9"/><rect x="657" y="501" width="7" height="49"/><rect x="666" y="549" width="7" height="15"/><rect x="675" y="562" width="7" height="13"/><rect x="693" y="528" width="7" height="11"/><rect x="711" y="538" width="7" height="37"/><rect x="729" y="551" width="7" height="1"/><rect x="774" y="438" width="7" height="17"/><rect x="783" y="453" width="7" height="45"/><rect x="792" y="498" width="7" height="20"/><rect x="819" y="499" width="7" height="3"/><rect x="828" y="502" width="7" height="6"/><rect x="846" y="473" width="7" height="2"/><rect x="864" y="457" width="7" height="5"/><rect x="891" y="425" width="7" height="13"/><rect x="900" y="436" width="7" height="3"/><rect x="918" y="436" width="7" height="6"/><rect x="927" y="441" width="7" height="4"/><rect x="981" y="386" width="7" height="3"/><rect x="999" y="370" width="7" height="4"/><rect x="1035" y="296" width="7" height="5"/><rect x="1053" y="265" width="7" height="109"/><rect x="1071" y="368" width="7" height="17"/><rect x="1107" y="291" width="7" height="21"/><rect x="1116" y="310" width="7" height="13"/></g>
</g>
<path d="M1119,205.5H1716M1119,397.4H1716" stroke="#0a2aff" stroke-width="1.2" fill="none"/>
<path d="M1060,265.5H1716" stroke="#363a45" stroke-width="1.2" fill="none"/>
<text x="1541.7" y="201.9" font-size="15" fill="#0a2aff" textLength="52.5" lengthAdjust="spacingAndGlyphs">4667.50</text>
<text x="1541.6" y="393.9" font-size="15" fill="#0a2aff" textLength="50.5" lengthAdjust="spacingAndGlyphs">4284.21</text>
<text x="1068.3" y="254.9" font-size="19.5" fill="#131722" textLength="33.4" lengthAdjust="spacingAndGlyphs">ATH</text>
<text x="1114.2" y="284.1" font-size="19.5" fill="#131722" textLength="21.1" lengthAdjust="spacingAndGlyphs">LH</text>
</g>
<text x="30" y="58.7" font-size="16.5" fill="#50535e"><tspan textLength="282.5" lengthAdjust="spacingAndGlyphs">Gold Spot / U.S. Dollar · 1T · Pepperstone</tspan></text>
<text x="322.5" y="58.7" font-size="16.5" fill="#50535e" textLength="10" lengthAdjust="spacingAndGlyphs">O</text>
<text x="332.5" y="58.7" font-size="16.5" fill="#f23645" textLength="57.5" lengthAdjust="spacingAndGlyphs">4.459,46</text>
<text x="399.5" y="58.7" font-size="16.5" fill="#50535e" textLength="10.5" lengthAdjust="spacingAndGlyphs">H</text>
<text x="410" y="58.7" font-size="16.5" fill="#f23645" textLength="56.7" lengthAdjust="spacingAndGlyphs">4.466,47</text>
<text x="476.7" y="58.7" font-size="16.5" fill="#50535e" textLength="8.5" lengthAdjust="spacingAndGlyphs">L</text>
<text x="485.2" y="58.7" font-size="16.5" fill="#f23645" textLength="57" lengthAdjust="spacingAndGlyphs">4.415,56</text>
<text x="551" y="58.7" font-size="16.5" fill="#50535e" textLength="10" lengthAdjust="spacingAndGlyphs">C</text>
<text x="561" y="58.7" font-size="16.5" fill="#f23645" textLength="56.7" lengthAdjust="spacingAndGlyphs">4.434,18</text>
<text x="627.7" y="58.7" font-size="16.5" fill="#f23645" textLength="105.7" lengthAdjust="spacingAndGlyphs">−22,33 (−0,50%)</text>
<g shape-rendering="crispEdges">
<rect x="1716" y="34" width="1.3" height="879" fill="#50535e"/>
<rect x="20" y="872.6" width="1788" height="1.3" fill="#50535e"/>
</g>
<rect x="1721" y="40.5" width="82.5" height="30.5" rx="5" fill="#fff" stroke="#f0f0f0" stroke-width="1.2"/>
<text x="1732.5" y="59.7" font-size="15" fill="#434651" textLength="25.7" lengthAdjust="spacingAndGlyphs">USD</text>
<text x="1728.3" y="93.9" font-size="17.5" fill="#4a4e59" stroke="#4a4e59" stroke-width="0.4" textLength="67.7" lengthAdjust="spacingAndGlyphs">4.900,00</text>
<text x="1728.3" y="143.99" font-size="17.5" fill="#4a4e59" stroke="#4a4e59" stroke-width="0.4" textLength="67.7" lengthAdjust="spacingAndGlyphs">4.800,00</text>
<text x="1728.3" y="194.08" font-size="17.5" fill="#4a4e59" stroke="#4a4e59" stroke-width="0.4" textLength="67.7" lengthAdjust="spacingAndGlyphs">4.700,00</text>
<text x="1728.3" y="244.17" font-size="17.5" fill="#4a4e59" stroke="#4a4e59" stroke-width="0.4" textLength="67.7" lengthAdjust="spacingAndGlyphs">4.600,00</text>
<text x="1728.3" y="294.26" font-size="17.5" fill="#4a4e59" stroke="#4a4e59" stroke-width="0.4" textLength="67.7" lengthAdjust="spacingAndGlyphs">4.500,00</text>
<text x="1728.3" y="394.44" font-size="17.5" fill="#4a4e59" stroke="#4a4e59" stroke-width="0.4" textLength="67.7" lengthAdjust="spacingAndGlyphs">4.300,00</text>
<text x="1728.3" y="444.53" font-size="17.5" fill="#4a4e59" stroke="#4a4e59" stroke-width="0.4" textLength="67.7" lengthAdjust="spacingAndGlyphs">4.200,00</text>
<text x="1728.3" y="544.71" font-size="17.5" fill="#4a4e59" stroke="#4a4e59" stroke-width="0.4" textLength="67.7" lengthAdjust="spacingAndGlyphs">4.000,00</text>
<text x="1728.3" y="594.8" font-size="17.5" fill="#4a4e59" stroke="#4a4e59" stroke-width="0.4" textLength="67.7" lengthAdjust="spacingAndGlyphs">3.900,00</text>
<text x="1728.3" y="644.89" font-size="17.5" fill="#4a4e59" stroke="#4a4e59" stroke-width="0.4" textLength="67.7" lengthAdjust="spacingAndGlyphs">3.800,00</text>
<text x="1728.3" y="694.98" font-size="17.5" fill="#4a4e59" stroke="#4a4e59" stroke-width="0.4" textLength="67.7" lengthAdjust="spacingAndGlyphs">3.700,00</text>
<text x="1728.3" y="745.07" font-size="17.5" fill="#4a4e59" stroke="#4a4e59" stroke-width="0.4" textLength="67.7" lengthAdjust="spacingAndGlyphs">3.600,00</text>
<text x="1728.3" y="795.16" font-size="17.5" fill="#4a4e59" stroke="#4a4e59" stroke-width="0.4" textLength="67.7" lengthAdjust="spacingAndGlyphs">3.500,00</text>
<text x="1728.3" y="845.25" font-size="17.5" fill="#4a4e59" stroke="#4a4e59" stroke-width="0.4" textLength="67.7" lengthAdjust="spacingAndGlyphs">3.400,00</text>
<path d="M1716.5,310.2H1801.9a2.3,2.3 0 0 1 2.3,2.3V352.7a2.3,2.3 0 0 1 -2.3,2.3H1716.5Z" fill="#ef5350"/>
<text x="1728.7" y="328.1" font-size="17.5" fill="#ffffff" stroke="#ffffff" stroke-width="0.4" textLength="68.4" lengthAdjust="spacingAndGlyphs">4.434,18</text>
<text x="1728.7" y="348.1" font-size="17.5" fill="#ffffff" stroke="#ffffff" stroke-width="0.4" textLength="68.4" lengthAdjust="spacingAndGlyphs">15:22:54</text>
<path d="M1716.5,402.4H1801.9a2.3,2.3 0 0 1 2.3,2.3V424.7a2.3,2.3 0 0 1 -2.3,2.3H1716.5Z" fill="#f23645"/>
<text x="1728.7" y="420.3" font-size="17.5" fill="#ffffff" stroke="#ffffff" stroke-width="0.4" textLength="68.4" lengthAdjust="spacingAndGlyphs">4.251,44</text>
<path d="M1716.5,481.5H1801.9a2.3,2.3 0 0 1 2.3,2.3V503.8a2.3,2.3 0 0 1 -2.3,2.3H1716.5Z" fill="#2962ff"/>
<text x="1728.7" y="499.4" font-size="17.5" fill="#ffffff" stroke="#ffffff" stroke-width="0.4" textLength="68.4" lengthAdjust="spacingAndGlyphs">4.092,75</text>
<path d="M1716.5,553.2H1801.9a2.3,2.3 0 0 1 2.3,2.3V575.5a2.3,2.3 0 0 1 -2.3,2.3H1716.5Z" fill="#880e4f"/>
<text x="1728.7" y="571.1" font-size="17.5" fill="#ffffff" stroke="#ffffff" stroke-width="0.4" textLength="68.4" lengthAdjust="spacingAndGlyphs">3.948,86</text>
<text x="97" y="898.9" font-size="17.5" fill="#50535e" stroke="#50535e" stroke-width="0.35" textLength="30" lengthAdjust="spacingAndGlyphs">Aug</text>
<text x="286" y="898.9" font-size="17.5" fill="#50535e" stroke="#50535e" stroke-width="0.35" textLength="29.5" lengthAdjust="spacingAndGlyphs">Sep</text>
<text x="485.5" y="898.9" font-size="17.5" fill="#50535e" stroke="#50535e" stroke-width="0.35" textLength="27" lengthAdjust="spacingAndGlyphs">Okt</text>
<text x="691.6" y="898.9" font-size="17.5" fill="#50535e" stroke="#50535e" stroke-width="0.35" textLength="28.4" lengthAdjust="spacingAndGlyphs">Nov</text>
<text x="871.8" y="898.9" font-size="17.5" fill="#50535e" stroke="#50535e" stroke-width="0.35" textLength="27.3" lengthAdjust="spacingAndGlyphs">Dez</text>
<text x="1257" y="898.9" font-size="17.5" fill="#50535e" stroke="#50535e" stroke-width="0.35" textLength="29" lengthAdjust="spacingAndGlyphs">Feb</text>
<text x="1437" y="898.9" font-size="17.5" fill="#50535e" stroke="#50535e" stroke-width="0.35" textLength="28" lengthAdjust="spacingAndGlyphs">Mrz</text>
<text x="1636" y="898.9" font-size="17.5" fill="#50535e" stroke="#50535e" stroke-width="0.35" textLength="26.5" lengthAdjust="spacingAndGlyphs">Apr</text>
<text x="1063.6" y="898.9" font-size="17.5" font-weight="bold" fill="#50535e" textLength="39.2" lengthAdjust="spacingAndGlyphs">2026</text>
<g><path d="M134.70,120.30 L134.25,121.63 L133.14,122.90 L132.01,124.14 L131.48,125.37 L131.79,126.68 L132.69,128.09 L133.55,129.54 L133.77,130.93 L133.09,132.15 L131.78,133.22 L130.46,134.24 L129.72,135.36 L129.80,136.71 L130.44,138.25 L131.04,139.83 L131.01,141.23 L130.13,142.32 L128.66,143.15 L127.17,143.92 L126.25,144.90 L126.09,146.24 L126.45,147.87 L126.77,149.53 L126.50,150.90 L125.45,151.82 L123.85,152.38 L122.26,152.88 L121.17,153.68 L120.79,154.97 L120.86,156.64 L120.89,158.33 L120.38,159.64 L119.18,160.36 L117.52,160.63 L115.86,160.85 L114.65,161.45 L114.05,162.66 L113.83,164.32 L113.56,165.98 L112.84,167.18 L111.53,167.69 L109.84,167.66 L108.17,167.59 L106.88,167.97 L106.08,169.06 L105.58,170.65 L105.02,172.25 L104.10,173.30 L102.73,173.57 L101.07,173.25 L99.44,172.89 L98.10,173.05 L97.12,173.97 L96.35,175.46 L95.52,176.93 L94.43,177.81 L93.03,177.84 L91.45,177.24 L89.91,176.60 L88.56,176.52 L87.44,177.26 L86.42,178.58 L85.35,179.89 L84.13,180.57 L82.74,180.35 L81.29,179.49 L79.88,178.59 L78.57,178.28 L77.34,178.81 L76.10,179.94 L74.83,181.05 L73.50,181.50 L72.17,181.05 L70.90,179.94 L69.66,178.81 L68.43,178.28 L67.12,178.59 L65.71,179.49 L64.26,180.35 L62.87,180.57 L61.65,179.89 L60.58,178.58 L59.56,177.26 L58.44,176.52 L57.09,176.60 L55.55,177.24 L53.97,177.84 L52.57,177.81 L51.48,176.93 L50.65,175.46 L49.88,173.97 L48.90,173.05 L47.56,172.89 L45.93,173.25 L44.27,173.57 L42.90,173.30 L41.98,172.25 L41.42,170.65 L40.92,169.06 L40.12,167.97 L38.83,167.59 L37.16,167.66 L35.47,167.69 L34.16,167.18 L33.44,165.98 L33.17,164.32 L32.95,162.66 L32.35,161.45 L31.14,160.85 L29.48,160.63 L27.82,160.36 L26.62,159.64 L26.11,158.33 L26.14,156.64 L26.21,154.97 L25.83,153.68 L24.74,152.88 L23.15,152.38 L21.55,151.82 L20.50,150.90 L20.23,149.53 L20.55,147.87 L20.91,146.24 L20.75,144.90 L19.83,143.92 L18.34,143.15 L16.87,142.32 L15.99,141.23 L15.96,139.83 L16.56,138.25 L17.20,136.71 L17.28,135.36 L16.54,134.24 L15.22,133.22 L13.91,132.15 L13.23,130.93 L13.45,129.54 L14.31,128.09 L15.21,126.68 L15.52,125.37 L14.99,124.14 L13.86,122.90 L12.75,121.63 L12.30,120.30 L12.75,118.97 L13.86,117.70 L14.99,116.46 L15.52,115.23 L15.21,113.92 L14.31,112.51 L13.45,111.06 L13.23,109.67 L13.91,108.45 L15.22,107.38 L16.54,106.36 L17.28,105.24 L17.20,103.89 L16.56,102.35 L15.96,100.77 L15.99,99.37 L16.87,98.28 L18.34,97.45 L19.83,96.68 L20.75,95.70 L20.91,94.36 L20.55,92.73 L20.23,91.07 L20.50,89.70 L21.55,88.78 L23.15,88.22 L24.74,87.72 L25.83,86.92 L26.21,85.63 L26.14,83.96 L26.11,82.27 L26.62,80.96 L27.82,80.24 L29.48,79.97 L31.14,79.75 L32.35,79.15 L32.95,77.94 L33.17,76.28 L33.44,74.62 L34.16,73.42 L35.47,72.91 L37.16,72.94 L38.83,73.01 L40.12,72.63 L40.92,71.54 L41.42,69.95 L41.98,68.35 L42.90,67.30 L44.27,67.03 L45.93,67.35 L47.56,67.71 L48.90,67.55 L49.88,66.63 L50.65,65.14 L51.48,63.67 L52.57,62.79 L53.97,62.76 L55.55,63.36 L57.09,64.00 L58.44,64.08 L59.56,63.34 L60.58,62.02 L61.65,60.71 L62.87,60.03 L64.26,60.25 L65.71,61.11 L67.12,62.01 L68.43,62.32 L69.66,61.79 L70.90,60.66 L72.17,59.55 L73.50,59.10 L74.83,59.55 L76.10,60.66 L77.34,61.79 L78.57,62.32 L79.88,62.01 L81.29,61.11 L82.74,60.25 L84.13,60.03 L85.35,60.71 L86.42,62.02 L87.44,63.34 L88.56,64.08 L89.91,64.00 L91.45,63.36 L93.03,62.76 L94.43,62.79 L95.52,63.67 L96.35,65.14 L97.12,66.63 L98.10,67.55 L99.44,67.71 L101.07,67.35 L102.73,67.03 L104.10,67.30 L105.02,68.35 L105.58,69.95 L106.08,71.54 L106.88,72.63 L108.17,73.01 L109.84,72.94 L111.53,72.91 L112.84,73.42 L113.56,74.62 L113.83,76.28 L114.05,77.94 L114.65,79.15 L115.86,79.75 L117.52,79.97 L119.18,80.24 L120.38,80.96 L120.89,82.27 L120.86,83.96 L120.79,85.63 L121.17,86.92 L122.26,87.72 L123.85,88.22 L125.45,88.78 L126.50,89.70 L126.77,91.07 L126.45,92.73 L126.09,94.36 L126.25,95.70 L127.17,96.68 L128.66,97.45 L130.13,98.28 L131.01,99.37 L131.04,100.77 L130.44,102.35 L129.80,103.89 L129.72,105.24 L130.46,106.36 L131.78,107.38 L133.09,108.45 L133.77,109.67 L133.55,111.06 L132.69,112.51 L131.79,113.92 L131.48,115.23 L132.01,116.46 L133.14,117.70 L134.25,118.97Z" fill="#fff" stroke="#3a4a9e" stroke-width="1.3"/><circle cx="73.5" cy="120.3" r="54.2" fill="#3a4a9e"/><circle cx="73.5" cy="120.3" r="37.5" fill="#fff"/><circle cx="73.5" cy="120.3" r="33.3" fill="none" stroke="#3a4a9e" stroke-width="1.4" stroke-dasharray="3.2 2.1"/><path d="M53.9,100.9H93.1V130.5Q93.1,134.5 89.5,136.6L73.5,145.3L57.5,136.6Q53.9,134.5 53.9,130.5Z" fill="#3a4a9e"/><path d="M53.9,100.9H93.1V112.5L73.5,104L53.9,112.5Z" fill="#95c11f"/><path d="M73.5,110L85,116.6V129.6L73.5,136.2L62,129.6V116.6Z" fill="#fff"/><path d="M73.5,116.2L79.6,119.7V126.4L73.5,129.8L67.6,126.4V119.7Z" fill="#3a4a9e"/><path d="M79.6,119.7L86,116V122.6H79.6Z" fill="#3a4a9e"/><path d="M73.4,122.6H85.2V126.6H73.4Z" fill="#fff"/><path id="arcTop" d="M30.299999999999997,120.3 A43.2,43.2 0 0 1 116.7,120.3" fill="none"/><path id="arcBot" d="M23.9,120.3 A49.6,49.6 0 0 0 123.1,120.3" fill="none"/><text font-size="10.5" font-weight="bold" fill="#fff" stroke="#fff" stroke-width="0.35" letter-spacing="0.45"><textPath href="#arcTop" startOffset="50%" text-anchor="middle">COMPLIANCE CHECKED</textPath></text><text font-size="10.5" font-weight="bold" fill="#fff" stroke="#fff" stroke-width="0.35" letter-spacing="1.1"><textPath href="#arcBot" startOffset="50%" text-anchor="middle">INVESTOR-GUARD</textPath></text></g>
<g><path d="M19.5,854.2C13.5,854.2 11.8,858 12.2,863L13.8,873C16.5,888 24.5,900.8 34.6,900.8C43,900.8 53,889.5 61.5,878.3C65.8,872.5 64.5,868 58,865C47,859.5 30,854.2 19.5,854.2Z" fill="#0564ff"/><path d="M23.5,862.5H41.2A10.7,10.7 0 0 1 41.2,883.9H35.2V877.7H40.6A4.5,4.5 0 0 0 40.6,868.7H21.3Z" fill="#fff"/><rect x="28.7" y="871.8" width="6.5" height="22.3" fill="#fff"/><text x="72" y="885" font-size="41.5" fill="#000" stroke="#000" stroke-width="1.5" stroke-linejoin="round" textLength="251" lengthAdjust="spacingAndGlyphs">pepperstone</text></g>
<g fill="#131722"><path d="M13.1,916.1H24.8V930.8H19V921.9H13.1Z"/><circle cx="29.9" cy="919" r="3"/><path d="M33.2,916.1H42.7L36.8,930.8H30.2Z"/><path d="M47.3,916.1H81.7L76.2,930.8H41.4Z"/><text x="51.5" y="927" font-size="9.6" font-weight="bold" fill="#fff" textLength="21.1" lengthAdjust="spacingAndGlyphs">PRO</text></g>
</svg></body></html>
